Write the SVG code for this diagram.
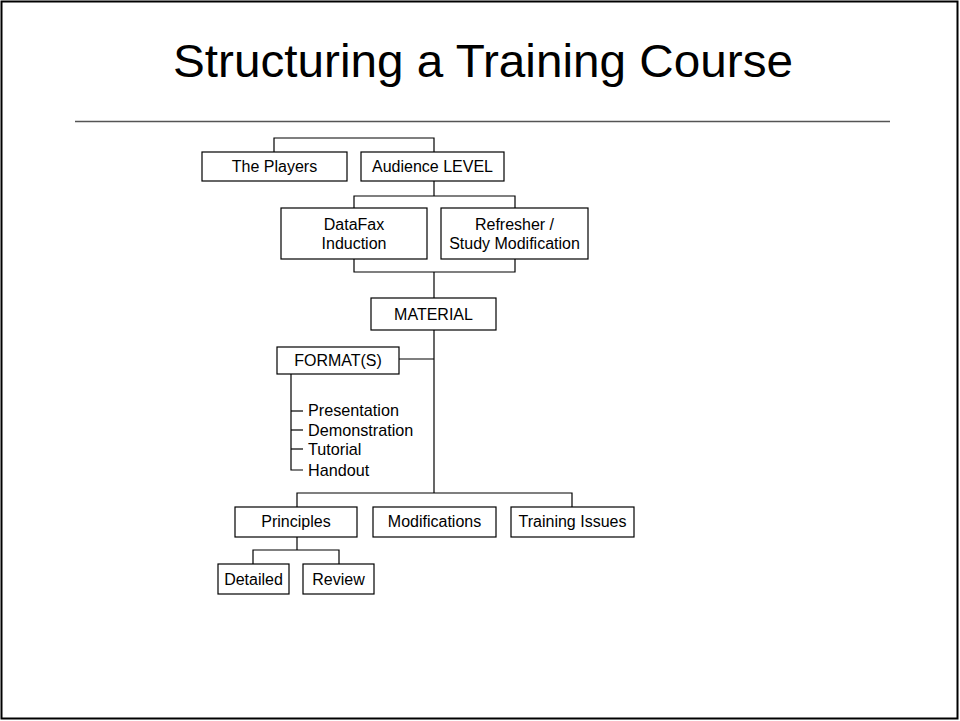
<svg xmlns="http://www.w3.org/2000/svg" width="960" height="721" viewBox="0 0 960 721">
<style>
.box{fill:#fff;stroke:#000;stroke-width:1.2}
.ln{fill:none;stroke:#000;stroke-width:1.2}
text{font-family:"Liberation Sans",Arial,sans-serif;fill:#000}
.t{font-size:16px;text-anchor:middle}
.l{font-size:16.2px}
</style>
<rect x="1.5" y="1.5" width="956" height="717" fill="#fff" stroke="#000" stroke-width="2"/>
<text x="173" y="77" font-size="46" textLength="620" lengthAdjust="spacingAndGlyphs">Structuring a Training Course</text>
<line x1="75" y1="121.5" x2="890" y2="121.5" stroke="#555" stroke-width="1.5"/>
<g id="connectors">
<polyline class="ln" points="274,152 274,138 434,138 434,152"/>
<line class="ln" x1="434" y1="181" x2="434" y2="196"/>
<polyline class="ln" points="354,208 354,196 515,196 515,208"/>
<polyline class="ln" points="354,259 354,272 515,272 515,259"/>
<line class="ln" x1="434" y1="272" x2="434" y2="298"/>
<line class="ln" x1="434" y1="330" x2="434" y2="493"/>
<line class="ln" x1="399" y1="359" x2="434" y2="359"/>
<polyline class="ln" points="291,374 291,470 303,470"/>
<line class="ln" x1="291" y1="411" x2="303" y2="411"/>
<line class="ln" x1="291" y1="430" x2="303" y2="430"/>
<line class="ln" x1="291" y1="449" x2="303" y2="449"/>
<polyline class="ln" points="297,507 297,493 572,493 572,507"/>
<line class="ln" x1="297" y1="537" x2="297" y2="550"/>
<polyline class="ln" points="253,564 253,550 339,550 339,564"/>
</g>
<g id="the-players"><rect class="box" x="202" y="152" width="145" height="29"/><text class="t" x="274.5" y="172">The Players</text></g>
<g id="audience-level"><rect class="box" x="361" y="152" width="143" height="29"/><text class="t" x="432.5" y="172">Audience LEVEL</text></g>
<g id="datafax-induction"><rect class="box" x="281" y="208" width="146" height="51"/><text class="t" x="354" y="230">DataFax</text><text class="t" x="354" y="249">Induction</text></g>
<g id="refresher"><rect class="box" x="441" y="208" width="147" height="51"/><text class="t" x="514.5" y="230">Refresher /</text><text class="t" x="514.5" y="249">Study Modification</text></g>
<g id="material"><rect class="box" x="371" y="298" width="125" height="32"/><text class="t" x="433.5" y="320">MATERIAL</text></g>
<g id="formats"><rect class="box" x="277" y="347" width="122" height="27"/><text class="t" x="338" y="366">FORMAT(S)</text></g>
<g id="format-list">
<text class="l" x="308" y="416">Presentation</text>
<text class="l" x="308" y="436">Demonstration</text>
<text class="l" x="308" y="455">Tutorial</text>
<text class="l" x="308" y="476">Handout</text>
</g>
<g id="principles"><rect class="box" x="235" y="507" width="122" height="30"/><text class="t" x="296" y="527">Principles</text></g>
<g id="modifications"><rect class="box" x="373" y="507" width="123" height="30"/><text class="t" x="434.5" y="527">Modifications</text></g>
<g id="training-issues"><rect class="box" x="511" y="507" width="123" height="30"/><text class="t" x="572.5" y="527">Training Issues</text></g>
<g id="detailed"><rect class="box" x="218" y="564" width="71" height="30"/><text class="t" x="253.5" y="585">Detailed</text></g>
<g id="review"><rect class="box" x="303" y="564" width="71" height="30"/><text class="t" x="338.5" y="585">Review</text></g>
</svg>
